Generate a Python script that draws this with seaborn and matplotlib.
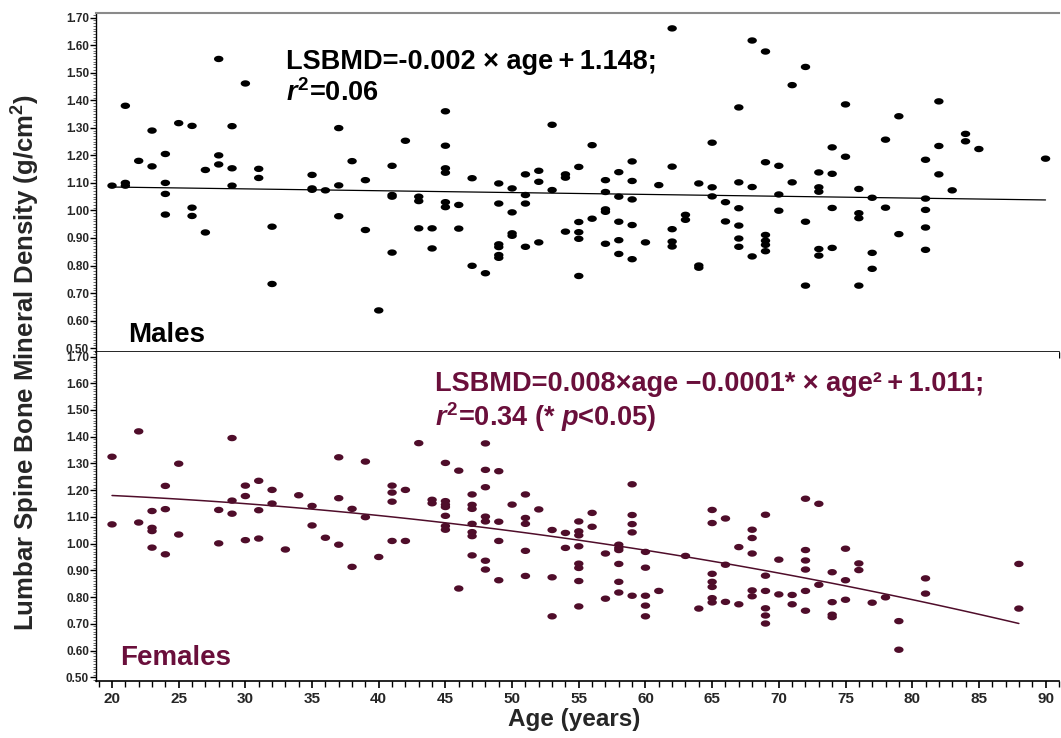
import numpy as np
import pandas as pd
import matplotlib
matplotlib.use("Agg")
import matplotlib.pyplot as plt
from matplotlib.path import Path
from matplotlib.ticker import MultipleLocator, FormatStrFormatter
import seaborn as sns

# ---------------- data ----------------
male_age = [20, 21, 21, 21, 22, 23, 23, 24, 24, 24, 24, 25, 26, 26, 26, 27, 27, 28, 28, 28,
            29, 29, 29, 30, 31, 31, 32, 32, 35, 35, 35, 36, 37, 37, 37, 38, 39, 39, 40, 41,
            41, 41, 41, 42, 43, 43, 43, 44, 44, 45, 45, 45, 45, 45, 45, 46, 46, 47, 47, 48,
            49, 49, 49, 49, 49, 49, 50, 50, 50, 50, 51, 51, 51, 51, 52, 52, 52, 53, 53, 54,
            54, 54, 55, 55, 55, 55, 55, 56, 56, 57, 57, 57, 57, 57, 58, 58, 58, 58, 58, 59,
            59, 59, 59, 59, 60, 61, 62, 62, 62, 62, 62, 63, 63, 64, 64, 64, 65, 65, 65, 66,
            66, 67, 67, 67, 67, 67, 67, 68, 68, 68, 69, 69, 69, 69, 69, 69, 70, 70, 70, 71,
            71, 72, 72, 72, 73, 73, 73, 73, 73, 74, 74, 74, 74, 75, 75, 76, 76, 76, 76, 77,
            77, 77, 78, 78, 79, 79, 81, 81, 81, 81, 81, 82, 82, 82, 83, 84, 84, 85, 90]
male_bmd = [1.09, 1.38, 1.10, 1.09, 1.18, 1.29, 1.16, 1.205, 1.10, 1.06, 0.985, 1.317, 1.307, 1.01, 0.98, 1.147, 0.92, 1.55, 1.20, 1.167,
            1.306, 1.153, 1.09, 1.461, 1.151, 1.118, 0.941, 0.733, 1.129, 1.08, 1.075, 1.073, 1.299, 1.091, 0.979, 1.179, 1.11, 0.929, 0.637, 1.162,
            1.056, 1.05, 0.847, 1.253, 1.05, 1.034, 0.935, 0.935, 0.862, 1.36, 1.235, 1.153, 1.137, 1.03, 1.012, 1.02, 0.934, 1.117, 0.799, 0.772,
            1.098, 1.025, 0.877, 0.867, 0.838, 0.828, 1.08, 0.993, 0.917, 0.908, 1.131, 1.056, 1.025, 0.868, 1.144, 1.104, 0.884, 1.311, 1.074, 1.131,
            1.119, 0.923, 1.158, 0.958, 0.921, 0.897, 0.762, 1.237, 0.97, 1.11, 1.067, 1.004, 0.995, 0.879, 1.139, 1.05, 0.959, 0.892, 0.842, 1.178,
            1.107, 1.04, 0.947, 0.823, 0.884, 1.092, 1.661, 1.159, 0.932, 0.887, 0.869, 0.984, 0.966, 1.098, 0.8, 0.792, 1.246, 1.084, 1.051, 1.03,
            0.96, 1.374, 1.102, 1.008, 0.945, 0.898, 0.868, 1.617, 1.085, 0.833, 1.577, 1.175, 0.911, 0.89, 0.875, 0.852, 1.162, 1.058, 0.999, 1.455,
            1.102, 1.521, 0.959, 0.727, 1.138, 1.084, 1.068, 0.86, 0.836, 1.229, 1.133, 1.009, 0.864, 1.385, 1.195, 1.078, 0.99, 0.972, 0.727, 1.046,
            0.846, 0.788, 1.257, 1.01, 1.342, 0.914, 1.184, 1.043, 1.002, 0.938, 0.857, 1.396, 1.234, 1.131, 1.073, 1.278, 1.251, 1.223, 1.188]

female_age = [20, 20, 22, 22, 23, 23, 23, 23, 24, 24, 24, 25, 25, 28, 28, 29, 29, 29, 30, 30,
              30, 31, 31, 31, 32, 32, 33, 34, 35, 35, 36, 37, 37, 37, 38, 38, 39, 39, 40, 41,
              41, 41, 41, 42, 42, 43, 44, 44, 45, 45, 45, 45, 45, 45, 45, 46, 46, 47, 47, 47,
              47, 47, 47, 47, 48, 48, 48, 48, 48, 48, 48, 49, 49, 49, 49, 50, 51, 51, 51, 51,
              51, 52, 53, 53, 53, 54, 54, 55, 55, 55, 55, 55, 55, 55, 55, 56, 56, 57, 57, 58,
              58, 58, 58, 58, 58, 59, 59, 59, 59, 59, 60, 60, 60, 60, 60, 61, 63, 64, 65, 65,
              65, 65, 65, 65, 65, 66, 66, 66, 67, 67, 68, 68, 68, 68, 68, 69, 69, 69, 69, 69,
              69, 70, 70, 71, 71, 72, 72, 72, 72, 72, 72, 73, 73, 74, 74, 74, 74, 75, 75, 75,
              76, 76, 77, 78, 79, 79, 81, 81, 88, 88]
female_bmd = [1.325, 1.072, 1.42, 1.079, 1.122, 1.059, 1.047, 0.985, 1.216, 1.129, 0.96, 1.299, 1.034, 1.126, 1.001, 1.395, 1.161, 1.112, 1.217, 1.178,
              1.013, 1.235, 1.125, 1.019, 1.201, 1.15, 0.978, 1.181, 1.141, 1.068, 1.022, 1.323, 1.17, 0.996, 1.13, 0.913, 1.307, 1.099, 0.95, 1.217,
              1.191, 1.157, 1.01, 1.201, 1.01, 1.376, 1.164, 1.151, 1.302, 1.159, 1.146, 1.137, 1.104, 1.066, 1.052, 1.273, 0.832, 1.184, 1.145, 1.13,
              1.074, 1.043, 1.028, 0.956, 1.375, 1.276, 1.211, 1.101, 1.083, 0.936, 0.903, 1.271, 1.082, 1.01, 0.863, 1.146, 1.184, 1.096, 1.074, 0.973,
              0.879, 1.128, 1.051, 0.874, 0.728, 1.04, 0.984, 1.083, 1.046, 1.031, 0.99, 0.925, 0.909, 0.86, 0.765, 1.115, 1.063, 0.963, 0.794, 0.996,
              0.984, 0.976, 0.924, 0.857, 0.817, 1.222, 1.107, 1.073, 1.042, 0.805, 0.969, 0.91, 0.805, 0.768, 0.728, 0.823, 0.954, 0.757, 1.126, 1.077,
              0.887, 0.857, 0.838, 0.796, 0.78, 1.094, 0.921, 0.782, 0.987, 0.773, 1.052, 1.021, 0.963, 0.825, 0.803, 1.108, 0.88, 0.823, 0.758, 0.731,
              0.701, 0.94, 0.81, 0.808, 0.773, 1.168, 0.976, 0.937, 0.903, 0.823, 0.749, 1.149, 0.846, 0.893, 0.781, 0.734, 0.725, 0.981, 0.863, 0.79,
              0.926, 0.901, 0.779, 0.799, 0.71, 0.603, 0.87, 0.813, 0.924, 0.757]

# fitted curves as drawn in the figure (polynomial coefficients, highest power first)
male_fit_coef = [-0.00067, 1.0984]
male_fit_range = [20, 90]
female_fit_coef = [-6.87e-5, 0.000377, 1.200]
female_fit_range = [20, 88]

male_eq = ["LSBMD=-0.002 \u00d7 age\u2009+\u20091.148;", "$\\mathit{r}^{\\mathbf{2}}$=0.06"]
female_eq = ["LSBMD=0.008\u00d7age \u22120.0001* \u00d7 age\u00b2\u2009+\u20091.011;",
             "$\\mathit{r}^{\\mathbf{2}}$=0.34 (* $\\mathit{p}$<0.05)"]
panel_labels = ["Males", "Females"]
x_label = "Age (years)"
y_label = "Lumbar Spine Bone Mineral Density (g/cm$^{\\mathbf{2}}$)"

# ---------------- style ----------------
sns.set_theme(style="white")
plt.rcParams["font.family"] = ["Liberation Sans", "DejaVu Sans"]
plt.rcParams["mathtext.fontset"] = "custom"
plt.rcParams["mathtext.rm"] = "Liberation Sans:bold"
plt.rcParams["mathtext.it"] = "Liberation Sans:bold:italic"
plt.rcParams["mathtext.bf"] = "Liberation Sans:bold"

MAROON_DOT = "#4f0d2a"
MAROON_TXT = "#6a0f3b"

theta = np.linspace(0, 2 * np.pi, 40)
ellipse = Path(np.column_stack([np.cos(theta), 0.68 * np.sin(theta)]), closed=True)

fig = plt.figure(figsize=(10.61, 7.38), dpi=100)
L, R = 0.0905, 0.998
ax_top = fig.add_axes([L, 0.5234, R - L, 0.9828 - 0.5234])
ax_bot = fig.add_axes([L, 0.0776, R - L, 0.5234 - 0.0776])

males = pd.DataFrame({"age": male_age, "bmd": male_bmd})
females = pd.DataFrame({"age": female_age, "bmd": female_bmd})

sns.scatterplot(data=males, x="age", y="bmd", ax=ax_top, marker=ellipse, s=46,
                color="black", edgecolor="none", linewidth=0, zorder=3)
sns.scatterplot(data=females, x="age", y="bmd", ax=ax_bot, marker=ellipse, s=46,
                color=MAROON_DOT, edgecolor="none", linewidth=0, zorder=3)

xm = np.linspace(male_fit_range[0], male_fit_range[1], 100)
sns.lineplot(x=xm, y=np.polyval(male_fit_coef, xm), ax=ax_top, color="black", lw=0.9)
xf = np.linspace(female_fit_range[0], female_fit_range[1], 100)
sns.lineplot(x=xf, y=np.polyval(female_fit_coef, xf), ax=ax_bot, color=MAROON_DOT, lw=1.1)

for ax in (ax_top, ax_bot):
    ax.set_xlim(18.8, 91)
    ax.set_ylim(0.487, 1.718)
    ax.set_xlabel("")
    ax.set_ylabel("")
    ax.yaxis.set_major_locator(MultipleLocator(0.1))
    ax.yaxis.set_minor_locator(MultipleLocator(0.01))
    ax.yaxis.set_major_formatter(FormatStrFormatter("%.2f"))
    ax.xaxis.set_major_locator(MultipleLocator(5))
    ax.xaxis.set_minor_locator(MultipleLocator(1))
    ax.tick_params(axis="y", which="major", direction="out", length=4, width=1,
                   color="black", labelsize=8.5, pad=1, left=True)
    ax.tick_params(axis="y", which="minor", direction="out", length=2, width=0.6,
                   color="#555555", left=True)
    ax.tick_params(axis="x", which="major", direction="out", length=5, width=1.2,
                   color="black", labelsize=11, pad=3, bottom=True)
    ax.tick_params(axis="x", which="minor", direction="out", length=4, width=1,
                   color="black", bottom=True)
    ax.spines["left"].set_color("black")
    ax.spines["left"].set_linewidth(1.0)
    ax.spines["bottom"].set_color("black")
    ax.spines["bottom"].set_linewidth(1.2)
    ax.spines["right"].set_visible(False)
    ax.grid(False)

ax_top.spines["top"].set_color("#8a8a8a")
ax_top.spines["top"].set_linewidth(1.5)
ax_top.tick_params(axis="x", which="both", labelbottom=False)
ax_bot.spines["top"].set_visible(False)

for lab in ax_bot.get_xticklabels() + ax_bot.get_yticklabels() + ax_top.get_yticklabels():
    lab.set_fontweight("bold")

# annotations
EQ_FS = 19.5
ax_top.text(0.197, 0.855, male_eq[0], transform=ax_top.transAxes, fontsize=EQ_FS,
            fontweight="bold", color="black", va="center", ha="left")
ax_top.text(0.197, 0.762, male_eq[1], transform=ax_top.transAxes, fontsize=EQ_FS,
            fontweight="bold", color="black", va="center", ha="left")
ax_top.text(0.033, 0.05, panel_labels[0], transform=ax_top.transAxes, fontsize=20,
            fontweight="bold", color="black", va="center", ha="left")

ax_bot.text(0.352, 0.902, female_eq[0], transform=ax_bot.transAxes, fontsize=EQ_FS,
            fontweight="bold", color=MAROON_TXT, va="center", ha="left")
ax_bot.text(0.352, 0.800, female_eq[1], transform=ax_bot.transAxes, fontsize=EQ_FS,
            fontweight="bold", color=MAROON_TXT, va="center", ha="left")
ax_bot.text(0.025, 0.068, panel_labels[1], transform=ax_bot.transAxes, fontsize=20,
            fontweight="bold", color=MAROON_TXT, va="center", ha="left")

fig.text(0.024, 0.509, y_label, rotation=90, fontsize=18.5, fontweight="bold",
         va="center", ha="center")
fig.text(0.541, 0.025, x_label, fontsize=17.5, fontweight="bold", va="center", ha="center")

fig.savefig("out.png", dpi=100)
